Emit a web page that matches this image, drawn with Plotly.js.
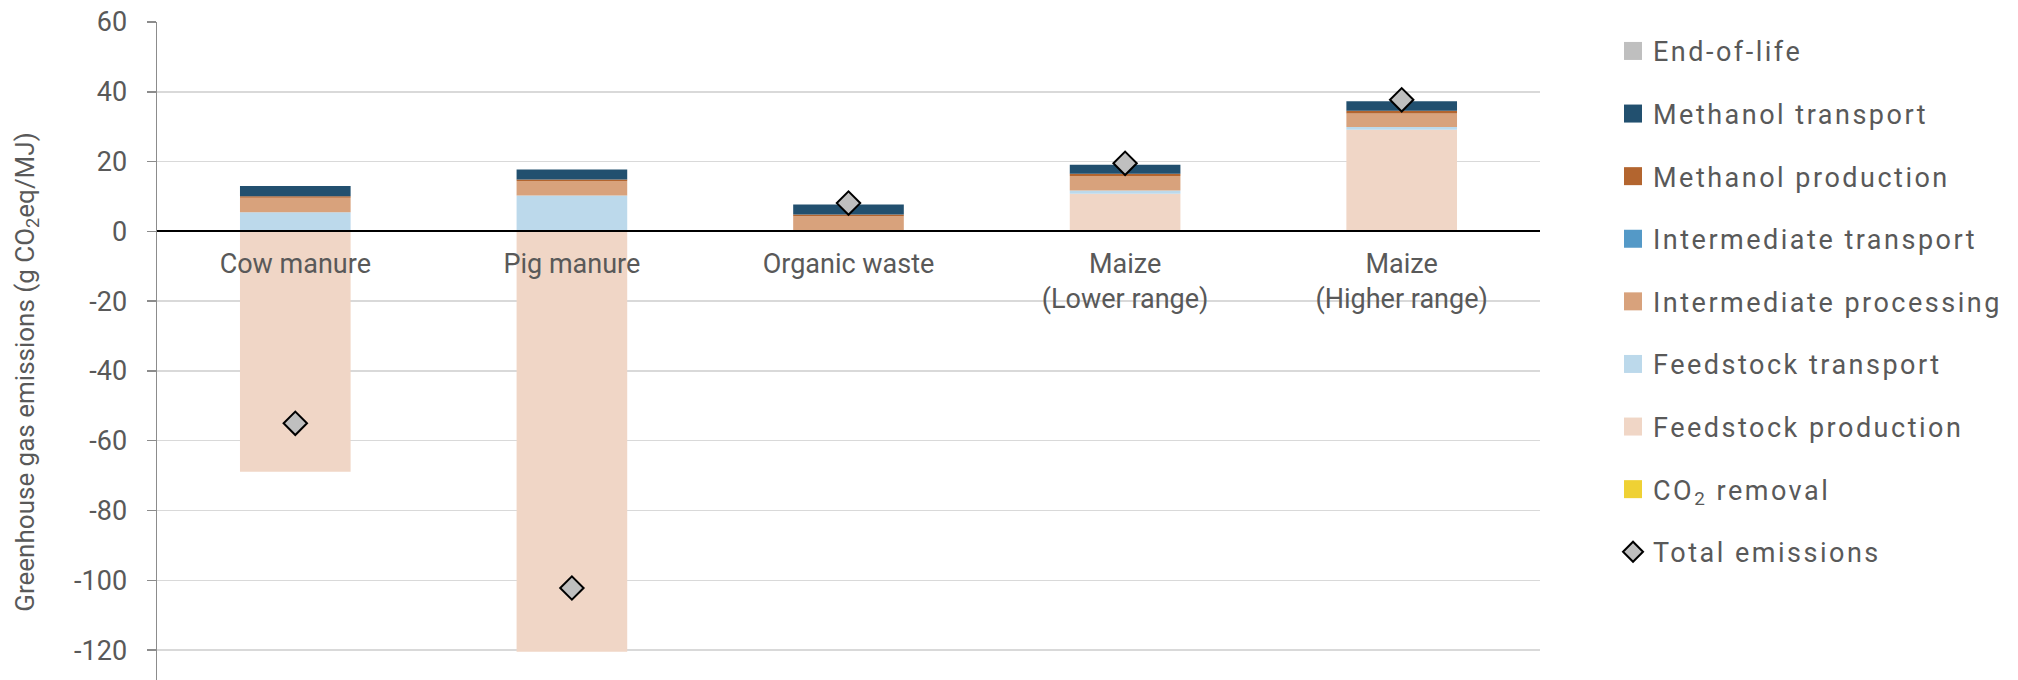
<!DOCTYPE html>
<html>
<head>
<meta charset="utf-8">
<script src="https://cdn.plot.ly/plotly-3.0.1.min.js"></script>
<style>
html, body { margin: 0; padding: 0; background: #fff; overflow: hidden; }
#chart { width: 2018px; height: 722px; }
.legendtext { letter-spacing: 2.5px; }
.legendpoints path:not(.scatterpts) { d: path("M9,9H-9V-9H9Z") !important; }
.legendpoints path.scatterpts { d: path("M10,0L0,10L-10,0L0,-10Z") !important; }
</style>
</head>
<body>
<div id="chart"></div>
<script>
const categories = ["Cow manure", "Pig manure", "Organic waste", "Maize<br>(Lower range)", "Maize<br>(Higher range)"];

const co2Removal             = [0, 0, 0, 0, 0];
const feedstockProduction    = [-68.9, -120.5, 0, 10.8, 29.1];
const feedstockTransport     = [5.5, 10.3, 0, 0.9, 0.8];
const intermediateProcessing = [4.1, 4.1, 4.3, 4.2, 3.9];
const intermediateTransport  = [0, 0, 0, 0, 0];
const methanolProduction     = [0.5, 0.5, 0.5, 0.6, 0.8];
const methanolTransport      = [2.9, 2.8, 2.9, 2.6, 2.7];
const endOfLife              = [0, 0, 0, 0, 0];
const totalEmissions         = [-55, -102.2, 8.1, 19.5, 37.7];

const yTickVals = [60, 40, 20, 0, -20, -40, -60, -80, -100, -120];
const yTickText = ["60", "40", "20", "0", "-20", "-40", "-60", "-80", "-100", "-120"];

const yMin = -140.6, yMax = 60;
const FONT = "Roboto, 'Open Sans', sans-serif";
const TXT = "#595959";

const stackSeries = [
  {name: "CO<sub>2</sub> removal",      y: co2Removal,             color: "#efd134", rank: 8},
  {name: "Feedstock production",         y: feedstockProduction,    color: "#f0d6c6", rank: 7},
  {name: "Feedstock transport",          y: feedstockTransport,     color: "#bcd9eb", rank: 6},
  {name: "Intermediate processing",      y: intermediateProcessing, color: "#d8a27c", rank: 5},
  {name: "Intermediate transport",       y: intermediateTransport,  color: "#5499c7", rank: 4},
  {name: "Methanol production",          y: methanolProduction,     color: "#b3652f", rank: 3},
  {name: "Methanol transport",           y: methanolTransport,      color: "#22506f", rank: 2},
  {name: "End-of-life",                  y: endOfLife,              color: "#bfbfbf", rank: 1}
];

const traces = stackSeries.map(s => ({
  type: "bar",
  name: s.name,
  x: categories,
  y: s.y,
  marker: {color: s.color, line: {width: 0}},
  legendrank: s.rank,
  legendgroup: "g" + s.rank,
  hoverinfo: "skip"
}));

traces.push({
  type: "scatter",
  mode: "markers",
  name: "Total emissions",
  x: categories,
  y: totalEmissions,
  marker: {symbol: "diamond", size: 18, color: "#bfbfbf", line: {color: "#000000", width: 2}},
  legendrank: 9,
  legendgroup: "g9",
  hoverinfo: "skip"
});

const zeroPos = (0 - yMin) / (yMax - yMin);

const layout = {
  width: 2018,
  height: 722,
  margin: {l: 157, r: 478, t: 22, b: 0, pad: 0, autoexpand: false},
  paper_bgcolor: "#ffffff",
  plot_bgcolor: "#ffffff",
  barmode: "relative",
  bargap: 0.6,
  font: {family: FONT, color: TXT, size: 27},
  showlegend: true,
  legend: {
    x: 1.0528, xanchor: "left",
    y: 0.993, yanchor: "top",
    maxheight: 1,
    font: {family: FONT, size: 27, color: TXT},
    tracegroupgap: 24.5,
    itemclick: false, itemdoubleclick: false,
    bgcolor: "rgba(0,0,0,0)"
  },
  xaxis: {
    type: "category",
    anchor: "free",
    position: zeroPos,
    showline: true,
    linecolor: "#000000",
    linewidth: 2,
    ticks: "",
    showgrid: false,
    zeroline: false,
    tickfont: {family: FONT, size: 27, color: TXT},
    ticklabelstandoff: 8,
    automargin: false,
    fixedrange: true
  },
  yaxis: {
    range: [yMin, yMax],
    tickvals: yTickVals,
    ticktext: yTickText,
    showline: true,
    linecolor: "#8c8c8c",
    linewidth: 1.5,
    ticks: "outside",
    ticklen: 9,
    tickwidth: 1.5,
    tickcolor: "#8c8c8c",
    showgrid: true,
    gridcolor: "#d9d9d9",
    gridwidth: 1.5,
    zeroline: false,
    tickfont: {family: FONT, size: 27, color: TXT},
    ticklabelstandoff: 14,
    automargin: false,
    title: {
      text: "Greenhouse gas emissions (g CO<sub>2</sub>eq/MJ)",
      font: {family: FONT, size: 26, color: TXT},
      standoff: 32
    },
    fixedrange: true
  }
};

Plotly.newPlot("chart", traces, layout, {staticPlot: true, displayModeBar: false});
</script>
</body>
</html>
